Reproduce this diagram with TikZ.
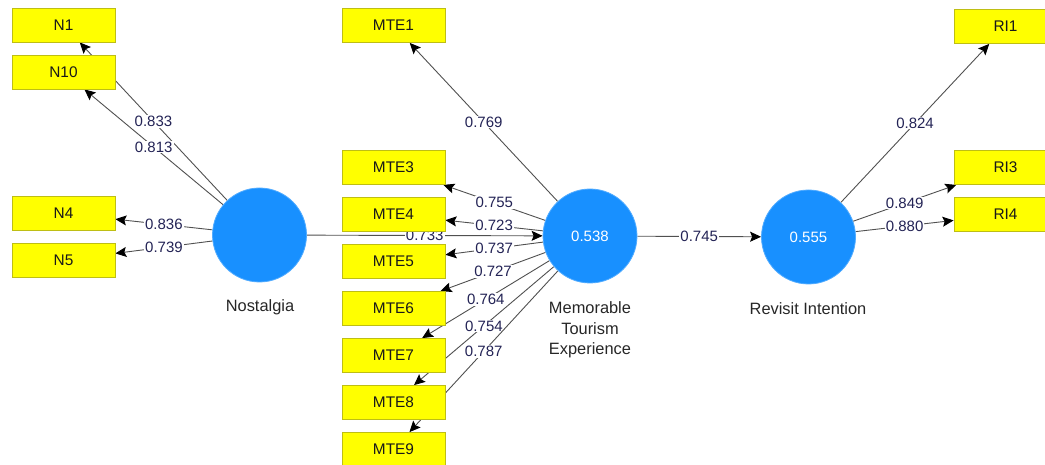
\documentclass[tikz,border=0pt]{standalone}
\usepackage{fontspec}
\setmainfont{Liberation Sans}
\usetikzlibrary{arrows.meta}
\pgfdeclarelayer{background}
\pgfsetlayers{background,main}
\definecolor{boxfill}{RGB}{255,255,0}
\definecolor{boxline}{RGB}{190,190,20}
\definecolor{lvfill}{RGB}{24,144,255}
\definecolor{coefink}{RGB}{35,35,85}
\definecolor{linkgray}{RGB}{80,80,80}
\tikzset{
  indicator/.style={draw=boxline, fill=boxfill, line width=0.8pt,
    minimum width=103pt, minimum height=34pt, inner sep=0pt, text=black!90,
    font=\fontsize{15.4}{18}\selectfont},
  construct/.style={circle, fill=lvfill, draw=lvfill!75!white, line width=0.8pt,
    minimum size=94pt, inner sep=0pt, text=white},
  link/.style={draw=linkgray, line width=0.9pt,
    -{Stealth[length=11pt,width=10pt,inset=2pt,color=black]}},
  coef/.style={fill=white, inner sep=1pt, text=coefink},
  caption/.style={align=center, text=black!85, font=\fontsize{16.4}{20.5}\selectfont}
}
\begin{document}
\begin{tikzpicture}[x=1pt,y=-1pt,font=\fontsize{15}{18}\selectfont]
\useasboundingbox (0,0) rectangle (1045,465);

% latent variables
\node[construct] (nost) at (259.5,235) {};
\node[construct] (mte)  at (590,236) {0.538};
\node[construct] (ri)   at (808.5,237) {0.555};

\node[caption] (nostcap) at (260,307) {Nostalgia};
\node[caption] (mtecap)  at (590,330) {Memorable\\Tourism\\Experience};
\node[caption] (ricap)   at (808,309) {Revisit Intention};

% Nostalgia indicators
\node[indicator] (n1)  at (63.5,25)    {N1};
\node[indicator] (n10) at (63.5,72)    {N10};
\node[indicator] (n4)  at (63.5,213.5) {N4};
\node[indicator] (n5)  at (63.5,260)   {N5};

% Memorable Tourism Experience indicators
\node[indicator] (mte1) at (393.5,25.5)  {MTE1};
\node[indicator] (mte3) at (393.5,167.5) {MTE3};
\node[indicator] (mte4) at (393.5,214.5) {MTE4};
\node[indicator] (mte5) at (393.5,261.5) {MTE5};
\node[indicator] (mte6) at (393.5,308.5) {MTE6};
\node[indicator] (mte7) at (393.5,355.5) {MTE7};
\node[indicator] (mte8) at (393.5,402.5) {MTE8};
\node[indicator] (mte9) at (393.5,449.5) {MTE9};

% Revisit Intention indicators
\node[indicator] (ri1) at (1005.5,26.5)  {RI1};
\node[indicator] (ri3) at (1005.5,167.5) {RI3};
\node[indicator] (ri4) at (1005.5,214.5) {RI4};

\begin{pgfonlayer}{background}
  % outer loadings
  \draw[link] (nost) -- node[coef]{0.833} (n1);
  \draw[link] (nost) -- node[coef]{0.813} (n10);
  \draw[link] (nost) -- node[coef]{0.836} (n4);
  \draw[link] (nost) -- node[coef]{0.739} (n5);

  \draw[link] (mte) -- node[coef]{0.769} (mte1);
  \draw[link] (mte) -- node[coef]{0.755} (mte3);
  \draw[link] (mte) -- node[coef]{0.723} (mte4);
  \draw[link] (mte) -- node[coef]{0.737} (mte5);
  \draw[link] (mte) -- node[coef]{0.727} (mte6);
  \draw[link] (mte) -- node[coef]{0.764} (mte7);
  \draw[link] (mte) -- node[coef]{0.754} (mte8);
  \draw[link] (mte) -- node[coef]{0.787} (mte9);

  \draw[link] (ri) -- node[coef]{0.824} (ri1);
  \draw[link] (ri) -- node[coef]{0.849} (ri3);
  \draw[link] (ri) -- node[coef]{0.880} (ri4);

  % path coefficients
  \draw[link] (nost) -- node[coef]{0.733} (mte);
  \draw[link] (mte) -- node[coef]{0.745} (ri);
\end{pgfonlayer}
\end{tikzpicture}
\end{document}
